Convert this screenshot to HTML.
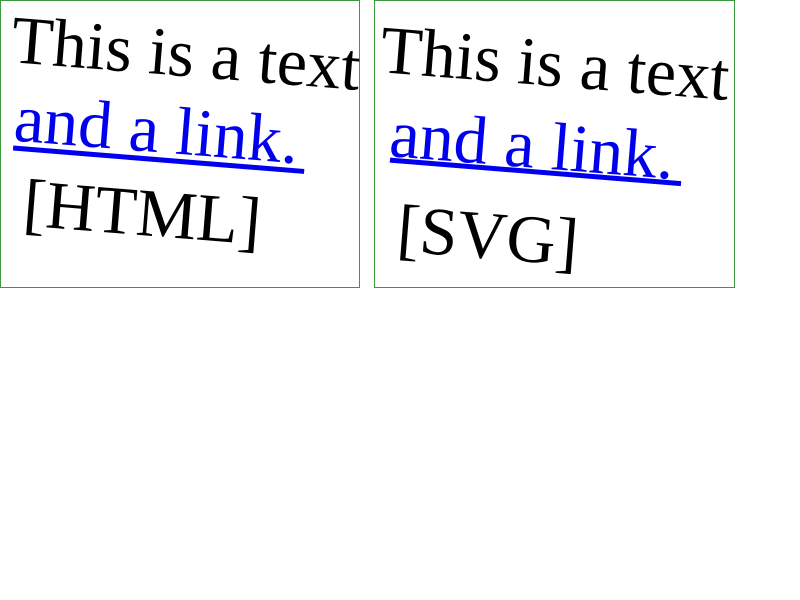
<!DOCTYPE html>
<html><head><style>html,body{margin:0;padding:0;background:#fff;width:800px;height:600px;overflow:hidden}
svg text{font-family:"Liberation Serif","Times New Roman",serif;font-size:68px}</style></head>
<body>
<svg width="800" height="600" xmlns="http://www.w3.org/2000/svg" style="display:block">
<rect x="0.5" y="0.5" width="359" height="287" fill="none" stroke="#3a9a3a" stroke-width="1"/>
<rect x="374.5" y="0.5" width="360" height="287" fill="none" stroke="#3a9a3a" stroke-width="1"/>
<g>
<g transform="translate(10,62) rotate(4.6)">
<text x="0" y="0" fill="#000">This is a text</text>
<text x="9" y="78" fill="#0000ee">and a link.</text>
<line x1="10" y1="85.5" x2="302" y2="85.5" stroke="#0000ee" stroke-width="5"/>
<text x="25" y="162" fill="#000">[HTML]</text>
</g>
<g transform="translate(379,72) rotate(4.6)">
<text x="0" y="0" fill="#000">This is a text</text>
<text x="16" y="83" fill="#0000ee">and a link.</text>
<line x1="18" y1="87" x2="310" y2="87" stroke="#0000ee" stroke-width="5"/>
<text x="31" y="177" fill="#000">[SVG]</text>
</g>
</g>
</svg>
</body></html>
